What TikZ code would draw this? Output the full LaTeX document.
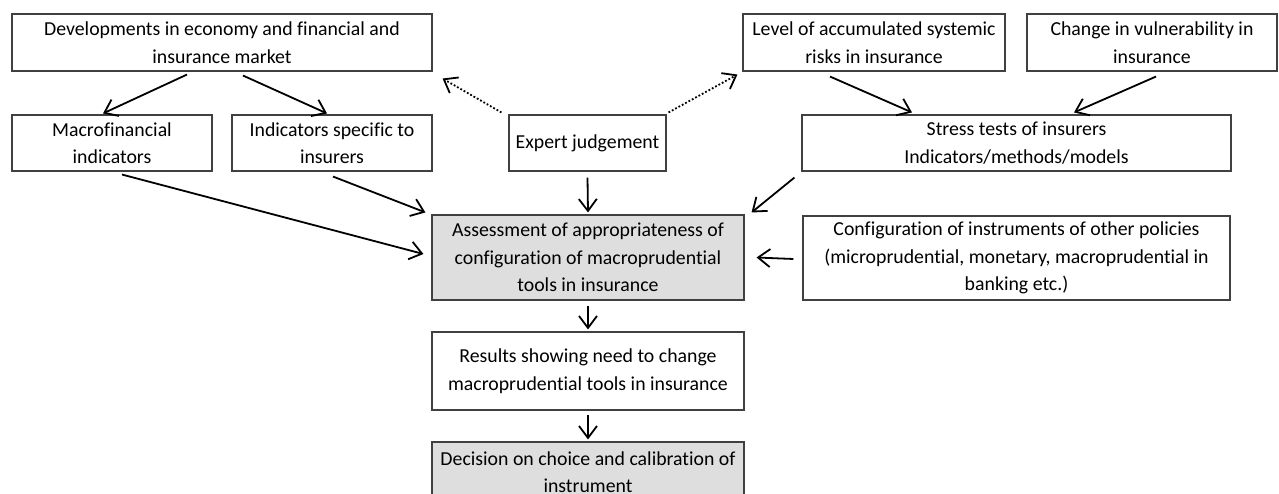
\documentclass[tikz,border=0pt]{standalone}
\usepackage{fontspec}
\setmainfont{Carlito}[Ligatures=NoCommon]
\usetikzlibrary{arrows.meta}
\begin{document}
\begin{tikzpicture}[x=1pt,y=-1pt,
  box/.style={draw=black!75,line width=1.1pt,rectangle,align=center,inner sep=0pt,
    font=\fontsize{19.8}{27.5}\selectfont},
  shaded/.style={box,fill=black!13},
  arr/.style={line width=1.8pt,-{Straight Barb[length=12pt,width=18pt,line width=1.8pt]}},
  dotarr/.style={arr,dotted}]
\useasboundingbox (0,0) rectangle (1279,494);
\begin{scope}
\clip (0,0) rectangle (1279,494);
\node[box,minimum width=420pt,minimum height=57pt] (dev) at (222,42.5) {Developments in economy and financial and\\insurance market};
\node[box,minimum width=262pt,minimum height=57pt] (level) at (874,42.5) {Level of accumulated systemic\\risks in insurance};
\node[box,minimum width=250pt,minimum height=57pt] (change) at (1152,42.5) {Change in vulnerability in\\insurance};
\node[box,minimum width=200pt,minimum height=56pt] (macro) at (112,143) {Macrofinancial\\indicators};
\node[box,minimum width=200pt,minimum height=56pt] (ind) at (332,143) {Indicators specific to\\insurers};
\node[box,minimum width=157pt,minimum height=56pt] (expert) at (587.5,143) {Expert judgement};
\node[box,minimum width=429pt,minimum height=56pt] (stress) at (1016.5,143) {Stress tests of insurers\\Indicators/methods/models};
\node[shaded,minimum width=312pt,minimum height=85pt] (assess) at (588,257.5) {Assessment of appropriateness of\\configuration of macroprudential\\tools in insurance};
\node[box,minimum width=427pt,minimum height=84pt] (config) at (1016.5,258) {Configuration of instruments of other policies\\(microprudential, monetary, macroprudential in\\banking etc.)};
\node[box,minimum width=312pt,minimum height=78pt] (results) at (588,371) {Results showing need to change\\macroprudential tools in insurance};
\node[shaded,minimum width=312pt,minimum height=60pt] (decision) at (588,472) {Decision on choice and calibration of\\instrument};
\end{scope}
\draw[arr] ([xshift=-35pt,yshift=-3pt]dev.south) -- ([xshift=-9pt,yshift=1pt]macro.north);
\draw[arr] ([xshift=21pt,yshift=-4pt]dev.south) -- ([xshift=-5pt,yshift=1pt]ind.north);
\draw[dotarr] ([xshift=-7pt,yshift=2pt]expert.north west) -- ([xshift=10pt,yshift=-7pt]dev.south east);
\draw[dotarr] ([xshift=2pt,yshift=2pt]expert.north east) -- ([xshift=-5pt,yshift=-3pt]level.south west);
\draw[arr] ([yshift=-6pt]expert.south) -- ([yshift=2pt]assess.north);
\draw[arr] ([xshift=-44pt,yshift=-5pt]level.south) -- ([xshift=-104.5pt,yshift=2pt]stress.north);
\draw[arr] ([xshift=4pt,yshift=-5pt]change.south) -- ([xshift=57.5pt,yshift=2pt]stress.north);
\draw[arr] ([xshift=-7pt,yshift=-6pt]stress.south west) -- ([xshift=7pt,yshift=2pt]assess.north east);
\draw[arr] ([xshift=10pt,yshift=-3pt]macro.south) -- ([xshift=-8pt,yshift=3.5pt]assess.west);
\draw[arr] ([xshift=1pt,yshift=-5pt]ind.south) -- ([xshift=-6pt,yshift=2pt]assess.north west);
\draw[arr] ([xshift=-9pt,yshift=-1pt]config.west) -- ([xshift=12pt]assess.east);
\draw[arr] ([yshift=-5pt]assess.south) -- ([yshift=2pt]results.north);
\draw[arr] ([yshift=-4pt]results.south) -- ([yshift=2pt]decision.north);
\end{tikzpicture}
\end{document}
